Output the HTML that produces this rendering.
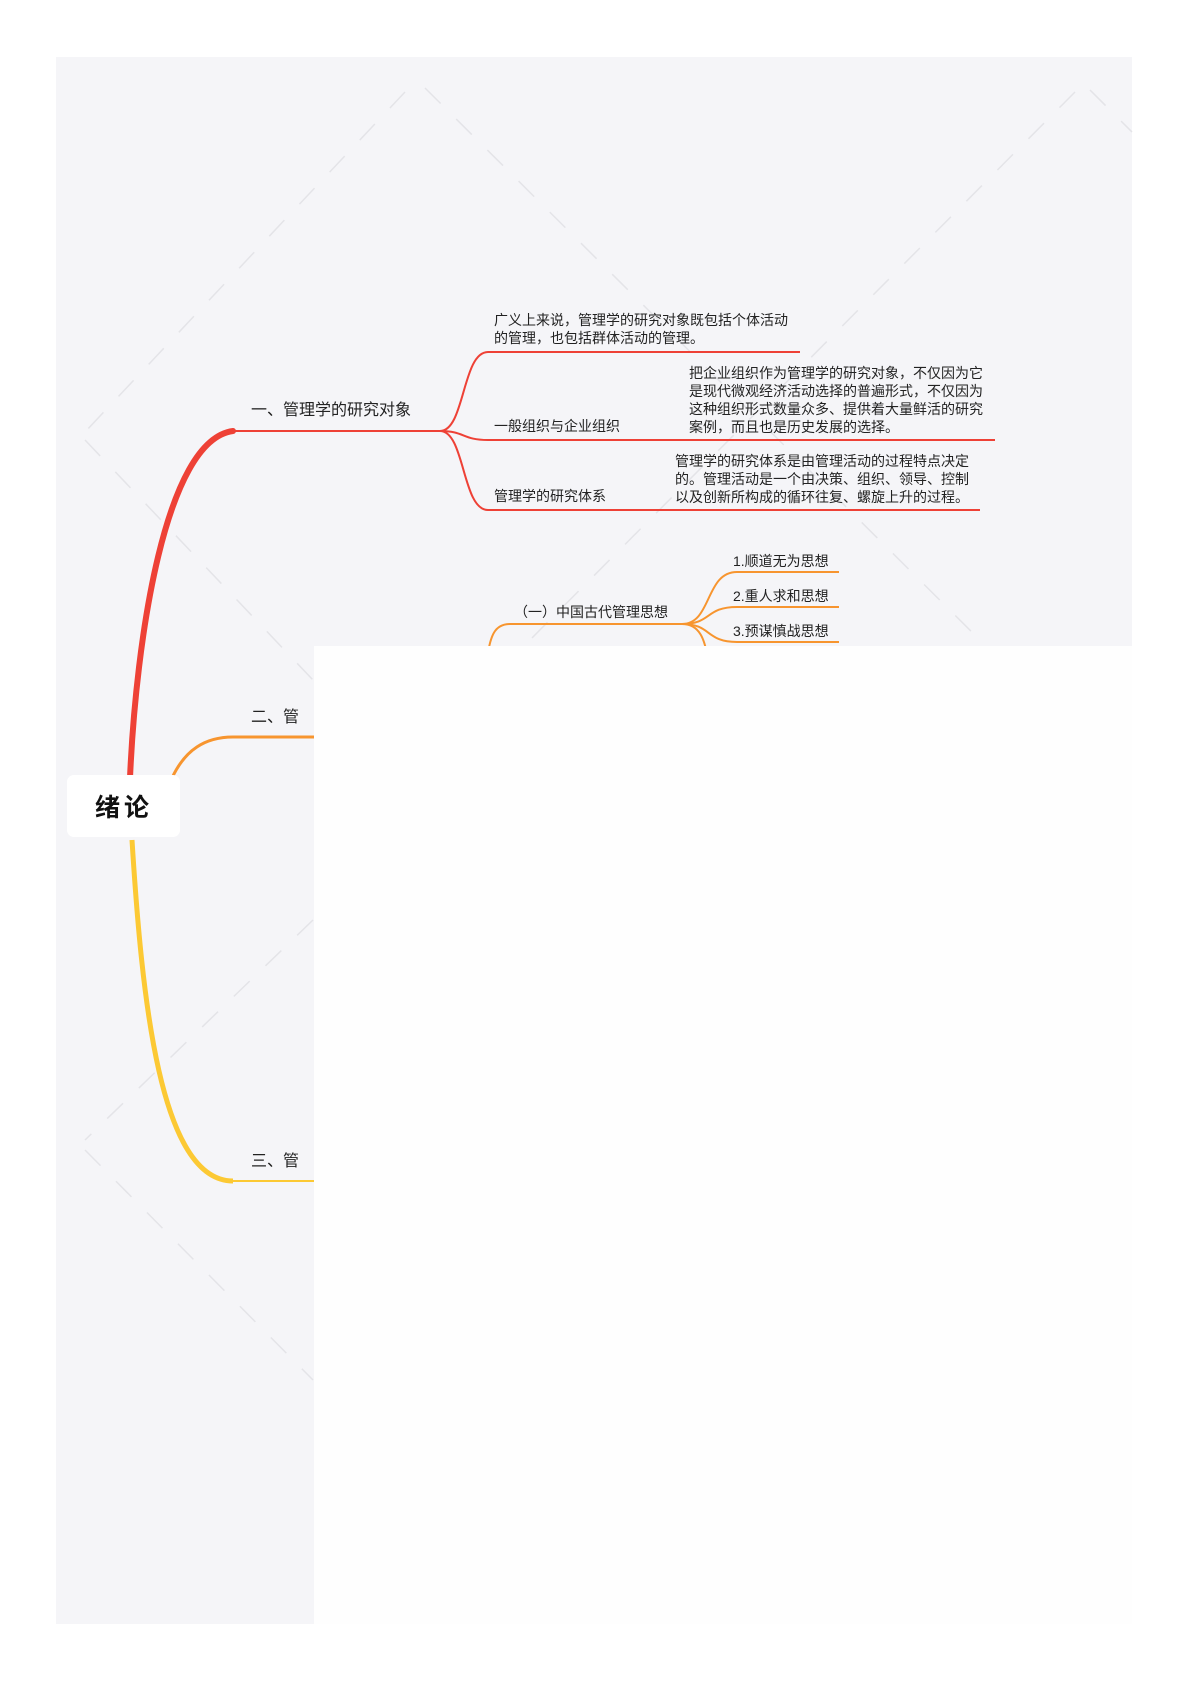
<!DOCTYPE html>
<html><head><meta charset="utf-8"><style>
html,body{margin:0;padding:0;background:#fff;}
body{width:1190px;height:1683px;position:relative;overflow:hidden;font-family:"Liberation Sans","Noto Sans CJK SC",sans-serif;}
svg{position:absolute;left:0;top:0;}
</style></head><body>
<svg width="1190" height="1683" viewBox="0 0 1190 1683" xmlns="http://www.w3.org/2000/svg" font-family="Liberation Sans, Noto Sans CJK SC, sans-serif">
<rect x="56" y="57" width="1076" height="1567" fill="#f5f5f8"/>
<g stroke="#e4e4e8" stroke-width="1.5" stroke-dasharray="22,22" fill="none">
<line x1="405" y1="92" x2="85" y2="432"/>
<line x1="425" y1="88" x2="1000" y2="660"/>
<line x1="1075" y1="92" x2="520" y2="650"/>
<line x1="1090" y1="90" x2="1132" y2="132"/>
<line x1="85" y1="440" x2="313" y2="680"/>
<line x1="313" y1="920" x2="85" y2="1140"/>
<line x1="85" y1="1150" x2="313" y2="1380"/>
</g>
<path d="M130 778 C 136 640, 165 440, 233 431" stroke="#ee4136" stroke-width="6" fill="none" stroke-linecap="round"/>
<path d="M233 431 L442 431" stroke="#ee4136" stroke-width="2" fill="none"/>
<path d="M172 778 C 185 750, 205 737, 233 737 L316 737" stroke="#f7952f" stroke-width="3" fill="none"/>
<path d="M132 840 C 142 1000, 160 1181, 233 1181" stroke="#fcc934" stroke-width="5" fill="none"/>
<path d="M233 1181 L316 1181" stroke="#fcc934" stroke-width="2" fill="none"/>
<g stroke="#ee4136" stroke-width="2" fill="none">
<path d="M440 431 C 465 431, 462 352, 488 352 L800 352"/>
<path d="M440 431 C 465 431, 462 440, 488 440 L995 440"/>
<path d="M440 431 C 465 431, 462 510, 488 510 L980 510"/>
</g>
<g font-size="14" fill="#222">
<text x="494" y="325">广义上来说，管理学的研究对象既包括个体活动</text>
<text x="494" y="343">的管理，也包括群体活动的管理。</text>
<text x="494" y="431">一般组织与企业组织</text>
<text x="689" y="378">把企业组织作为管理学的研究对象，不仅因为它</text>
<text x="689" y="396">是现代微观经济活动选择的普遍形式，不仅因为</text>
<text x="689" y="414">这种组织形式数量众多、提供着大量鲜活的研究</text>
<text x="689" y="432">案例，而且也是历史发展的选择。</text>
<text x="494" y="501">管理学的研究体系</text>
<text x="675" y="466">管理学的研究体系是由管理活动的过程特点决定</text>
<text x="675" y="484">的。管理活动是一个由决策、组织、领导、控制</text>
<text x="675" y="502">以及创新所构成的循环往复、螺旋上升的过程。</text>
</g>
<text x="251" y="415" font-size="16" fill="#222">一、管理学的研究对象</text>
<text x="251" y="722" font-size="16" fill="#222">二、管</text>
<text x="251" y="1166" font-size="16" fill="#222">三、管</text>
<g stroke="#f7952f" stroke-width="2" fill="none">
<path d="M487 660 C 490 635, 495 624, 510 624 L682 624"/>
<path d="M682 624 C 712 624, 705 572, 737 572 L839 572"/>
<path d="M682 624 C 712 624, 705 607, 737 607 L839 607"/>
<path d="M682 624 C 712 624, 705 642, 737 642 L839 642"/>
<path d="M682 624 C 700 624, 705 640, 708 660"/>
</g>
<g font-size="14" fill="#222">
<text x="514" y="617">（一）中国古代管理思想</text>
<text x="733" y="566">1.顺道无为思想</text>
<text x="733" y="601">2.重人求和思想</text>
<text x="733" y="636">3.预谋慎战思想</text>
</g>
<rect x="314" y="646" width="818" height="978" fill="#fefefe"/>
<rect x="67" y="775" width="113" height="62" rx="7" fill="#ffffff"/>
<text x="124" y="816" font-size="25" font-weight="bold" fill="#111" text-anchor="middle" letter-spacing="4">绪论</text>
</svg>
</body></html>
